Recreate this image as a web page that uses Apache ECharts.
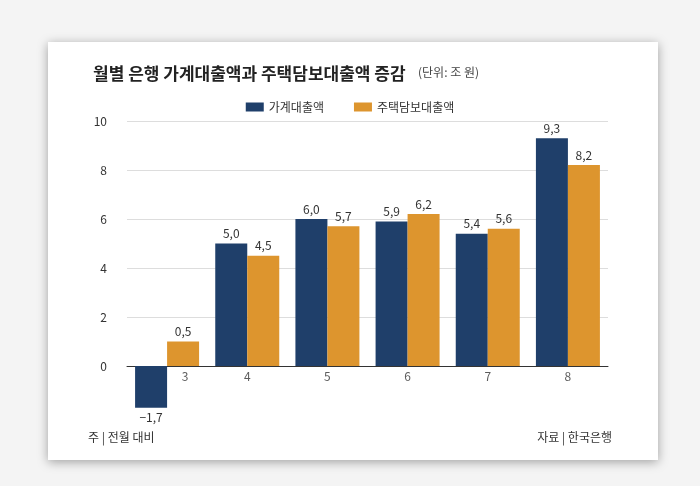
<!DOCTYPE html>
<html><head><meta charset="utf-8">
<script src="https://cdn.jsdelivr.net/npm/echarts@6/dist/echarts.min.js"></script>
<style>
html,body{margin:0;padding:0;background:#f4f4f4;width:700px;height:486px;overflow:hidden}
#card{position:absolute;left:48px;top:42px;width:610px;height:418px;background:#fff;box-shadow:0 2px 10px rgba(0,0,0,0.35)}
#c{position:absolute;left:0;top:0;width:700px;height:486px}
</style></head><body>
<div id="card"></div><div id="c"></div>
<script>
const categories = ['3','4','5','6','7','8'];
const household = [-1.7, 5.0, 6.0, 5.9, 5.4, 9.3];
const mortgage = [1.0, 4.5, 5.7, 6.2, 5.6, 8.2];
const householdLabels = ['−1,7','5,0','6,0','5,9','5,4','9,3'];
const mortgageLabels = ['0,5','4,5','5,7','6,2','5,6','8,2'];
const yTicks = [0,2,4,6,8,10];
const font = '"Noto Sans CJK KR", "Noto Sans", sans-serif';
const chart = echarts.init(document.getElementById('c'));
const lbl = arr => ({show:true, position:'top', distance:4, color:'#333', fontSize:12, fontFamily:font,
  formatter: p => arr[p.dataIndex]});
chart.setOption({
  animation:false,
  textStyle:{fontFamily:font},
  title:{text:'월별 은행 가계대출액과 주택담보대출액 증감', left:88, top:60,
    textStyle:{fontSize:17, fontWeight:'bold', color:'#222', fontFamily:font}},
  graphic:[
    {type:'text', left:418, top:66, style:{text:'(단위: 조 원)', fill:'#444', font:'12px '+font}},
    {type:'text', left:88, top:431, style:{text:'주 | 전월 대비', fill:'#333', font:'12px '+font}},
    {type:'text', right:88, top:431, style:{text:'자료 | 한국은행', fill:'#333', font:'12px '+font}}
  ],
  legend:{top:96, left:'center', itemWidth:18, itemHeight:9, itemGap:30, icon:'rect',
    data:['가계대출액','주택담보대출액'],
    textStyle:{fontSize:12, color:'#333', fontFamily:font}},
  grid:{left:127, right:92, top:121, bottom:71},
  xAxis:{type:'category', data:categories,
    axisLine:{show:true, onZero:true, lineStyle:{color:'#333', width:1}},
    axisTick:{show:false}, axisLabel:{show:false}},
  yAxis:{type:'value', min:-2, max:10, interval:2,
    axisLabel:{color:'#333', fontSize:12, margin:20, fontFamily:font,
      formatter: v => yTicks.includes(v) ? String(v) : ''},
    splitLine:{lineStyle:{color:['rgba(0,0,0,0)','#ddd','#ddd','#ddd','#ddd','#ddd','#ddd']}}},
  series:[
    {name:'가계대출액', type:'bar', barWidth:32, barGap:'0%',
     data: household.map(v => v < 0 ? {value:v, label:{position:'bottom'}} : v),
     itemStyle:{color:'#1f3f6a'}, label:lbl(householdLabels)},
    {name:'주택담보대출액', type:'bar', data:mortgage, barWidth:32,
     itemStyle:{color:'#dd952e'}, label:lbl(mortgageLabels)},
    {name:'cat', type:'scatter', symbolSize:0, silent:true,
     data: categories.map((c,i) => ({value:[c,0], label:{offset:[c==='3'?18:0,0]}})),
     label:{show:true, position:'bottom', distance:4, color:'#333', fontSize:12, fontFamily:font,
       formatter: p => categories[p.dataIndex]}}
  ]
});
</script></body></html>
